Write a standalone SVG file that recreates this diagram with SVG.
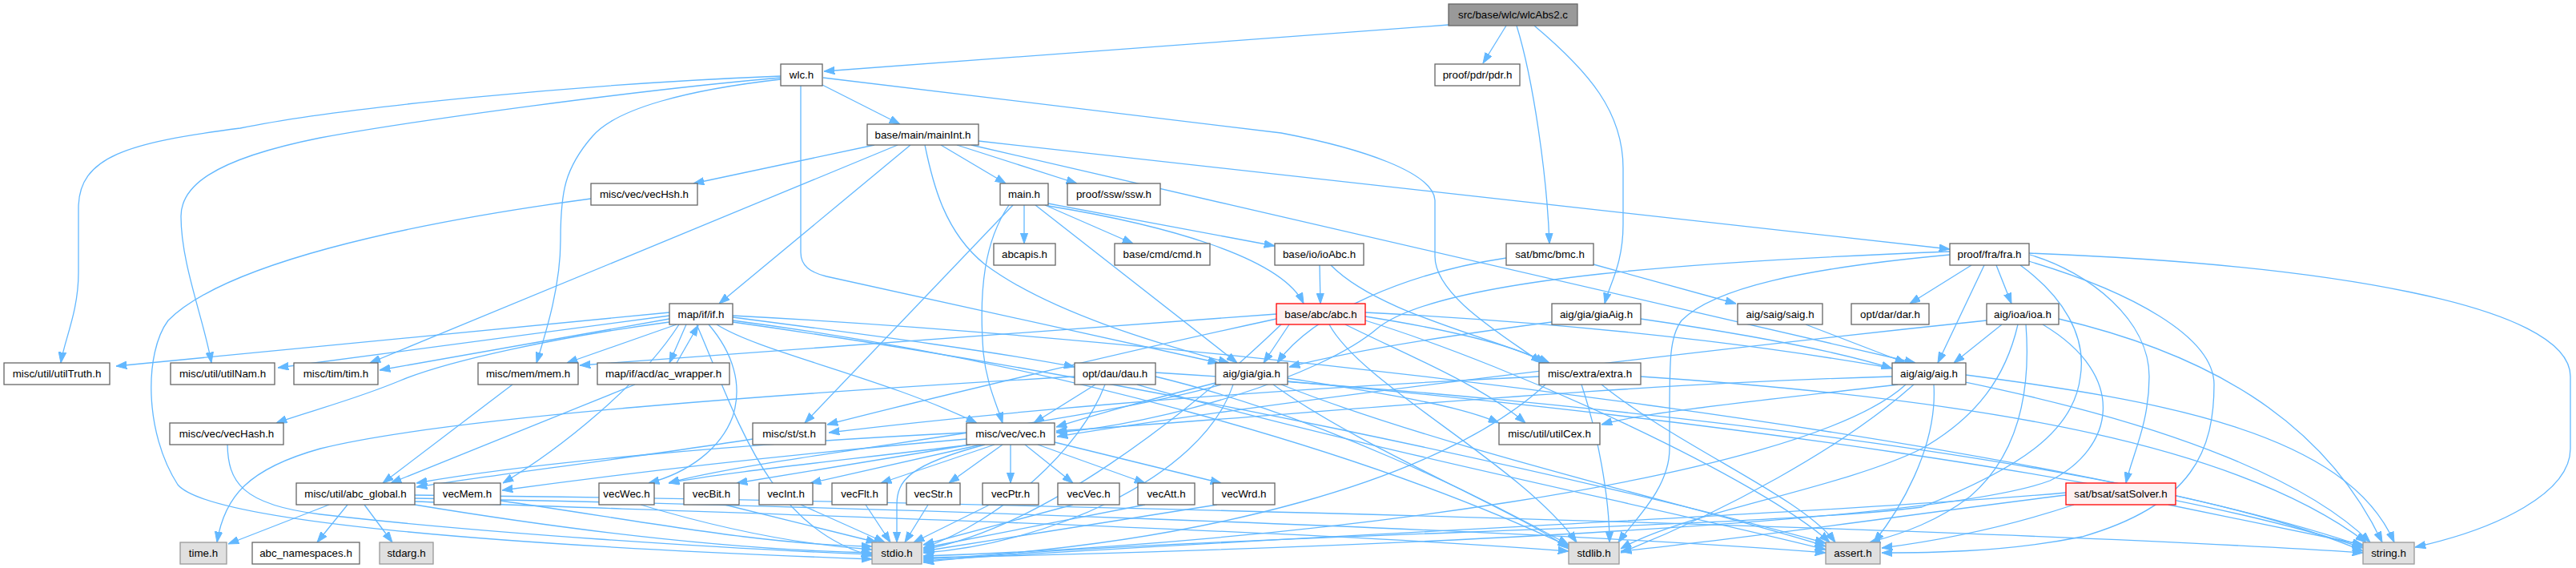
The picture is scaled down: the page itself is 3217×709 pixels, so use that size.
<svg xmlns="http://www.w3.org/2000/svg" width="3217" height="709" viewBox="0 0 3217 709">
<defs>
<marker id="ar" markerUnits="userSpaceOnUse" viewBox="0 0 13.3 10" refX="13.3" refY="5" markerWidth="13.3" markerHeight="10" orient="auto"><path d="M0,0.3 L13.3,5 L0,9.7 z" fill="#63b8ff" stroke="#63b8ff" stroke-width="1"/></marker>
</defs>
<style>
.e path{fill:none;stroke:#63b8ff;stroke-width:1.3;marker-end:url(#ar)}
rect{stroke-width:1.3}
.n rect{fill:#ffffff;stroke:#666666}
.s rect{fill:#e0e0e0;stroke:#999999}
.r rect{fill:#fff0f0;stroke:#ff0000}
.root rect{fill:#999999;stroke:#666666}
text{font-family:"Liberation Sans",Arial,Helvetica,sans-serif;font-size:13.33px;fill:#000000;text-anchor:middle}
</style>
<rect width="3217" height="709" fill="#ffffff"/>
<g id="edges" class="e">
<path d="M1809,31 L1029,89"/>
<path d="M1881,32 L1852,79"/>
<path d="M1894,32 C1915,100 1932,220 1935,304"/>
<path d="M1916,32 C1985,90 2027,140 2027,210 L2027,280 C2027,330 2010,355 2004,379"/>
<path d="M1027,106 L1124,155"/>
<path d="M975,95 C720,105 420,135 300,160 C160,178 98,195 98,260 L98,340 C98,390 80,425 76,453"/>
<path d="M975,97 C800,112 520,150 400,172 C260,200 226,235 226,270 C226,330 255,400 264,453"/>
<path d="M975,99 C860,112 770,135 740,170 C705,210 700,240 700,300 C700,360 680,420 670,453"/>
<path d="M1000,107 L1000,315 C1000,332 1012,340 1032,345 L1522,453"/>
<path d="M1028,97 L1600,166 C1700,185 1790,215 1792,250 L1792,320 C1792,370 1880,420 1925,453"/>
<path d="M1092,181 L866,229"/>
<path d="M1121,181 L462,453"/>
<path d="M1137,181 L898,379"/>
<path d="M1155,181 C1165,230 1180,290 1230,330 C1310,390 1450,430 1535,453"/>
<path d="M1175,181 L1256,229"/>
<path d="M1195,181 L1345,229"/>
<path d="M1213,181 L2392,453"/>
<path d="M1222,176 L2435,311"/>
<path d="M1279,256 L1279,304"/>
<path d="M1305,256 L1415,304"/>
<path d="M1309,254 L1592,307"/>
<path d="M1309,257 C1450,280 1600,320 1628,379"/>
<path d="M1293,256 L1545,453"/>
<path d="M1265,256 L1005,528"/>
<path d="M1260,256 C1230,300 1222,360 1228,440 C1232,480 1245,505 1252,528"/>
<path d="M1648,331 L1649,379"/>
<path d="M1662,331 C1720,390 1860,420 1935,453"/>
<path d="M1990,330 L2168,379"/>
<path d="M1881,322 C1760,340 1640,390 1595,453"/>
<path d="M2462,331 L2385,379"/>
<path d="M2478,331 L2420,453"/>
<path d="M2493,331 L2512,379"/>
<path d="M2535,318 C2610,340 2684,400 2684,470 C2684,530 2662,570 2655,603"/>
<path d="M2534,316 C2900,330 3210,380 3210,470 L3210,560 C3210,615 3120,660 3016,683"/>
<path d="M2530,325 C2660,363 2765,420 2765,480 C2765,560 2740,630 2600,670 C2500,690 2400,690 2350,690"/>
<path d="M2435,318 C2250,335 2140,360 2100,400 C2085,420 2085,450 2085,520 L2085,560 C2085,610 2040,650 2021,677"/>
<path d="M2523,331 C2577,370 2606,420 2598,470 C2590,540 2520,585 2400,633 C2200,660 1400,670 1153,702"/>
<path d="M2435,314 C2150,325 1800,345 1720,410 C1650,470 1450,530 1319,540"/>
<path d="M2500,405 L2440,453"/>
<path d="M2481,400 C2100,440 1600,500 1320,545"/>
<path d="M2520,405 C2505,470 2470,520 2400,560 C2300,610 2100,640 2024,685"/>
<path d="M2530,405 C2535,470 2530,560 2460,620 C2420,650 2380,665 2335,677"/>
<path d="M2571,398 C2750,440 2900,520 2975,677"/>
<path d="M2551,405 C2660,470 2640,560 2560,600 C2400,660 1500,690 1153,696"/>
<path d="M2363,470 C2000,480 1600,520 1319,538"/>
<path d="M2370,480 C2200,500 2050,515 2000,530"/>
<path d="M2390,480 C2300,560 2150,640 2024,690"/>
<path d="M2415,480 C2420,560 2370,640 2340,677"/>
<path d="M2455,468 C2700,500 2930,540 2990,677"/>
<path d="M2380,480 C2250,600 1600,680 1153,694"/>
<path d="M1518,478 C1430,500 1360,520 1319,533"/>
<path d="M1525,480 C1350,530 950,570 835,603"/>
<path d="M1608,472 C1720,490 1820,505 1872,528"/>
<path d="M1540,480 C1500,600 1300,680 1153,690"/>
<path d="M1590,480 C1700,560 1900,640 1959,685"/>
<path d="M1600,480 C1800,560 2150,640 2280,682"/>
<path d="M1608,476 C2100,520 2700,600 2951,684"/>
<path d="M1610,405 L1578,453"/>
<path d="M1594,398 C1400,440 1150,500 1033,530"/>
<path d="M1594,392 L724,456"/>
<path d="M1680,405 C1750,440 1850,480 1905,528"/>
<path d="M1705,395 C1800,410 1890,430 1930,453"/>
<path d="M1600,405 C1480,520 1300,660 1153,686"/>
<path d="M1660,405 C1700,480 1900,580 1969,677"/>
<path d="M1705,400 C1900,460 2200,600 2285,677"/>
<path d="M1705,390 C2300,420 2800,520 2960,677"/>
<path d="M1938,402 C1800,420 1680,440 1610,458"/>
<path d="M2049,398 C2200,420 2300,440 2363,460"/>
<path d="M2255,405 L2380,453"/>
<path d="M1368,480 L1291,528"/>
<path d="M1342,470 C1000,490 560,520 400,560 C310,585 280,620 271,677"/>
<path d="M1380,480 C1350,560 1250,650 1153,684"/>
<path d="M1443,470 C1650,520 1850,620 1959,680"/>
<path d="M1420,480 C1700,560 2100,640 2280,686"/>
<path d="M1443,465 C2000,500 2700,580 2951,688"/>
<path d="M1922,470 C1500,490 1200,520 1035,540"/>
<path d="M1930,480 C1800,600 1500,680 1153,698"/>
<path d="M1975,480 C1995,540 2010,620 2010,677"/>
<path d="M2000,480 C2100,560 2250,620 2292,677"/>
<path d="M2049,470 C2500,500 2800,560 2955,677"/>
<path d="M2580,615 C2300,640 1600,670 1153,700"/>
<path d="M2580,618 C2400,640 2200,670 2024,688"/>
<path d="M2590,630 C2500,660 2420,675 2350,684"/>
<path d="M2708,630 L2951,680"/>
<path d="M836,390 L145,457"/>
<path d="M836,394 L347,459"/>
<path d="M836,398 L474,462"/>
<path d="M845,405 L708,453"/>
<path d="M857,405 L836,453"/>
<path d="M836,402 C700,420 560,450 500,475 C440,500 380,515 345,528"/>
<path d="M895,405 C950,440 1100,470 1220,528"/>
<path d="M848,405 C800,480 700,560 628,603"/>
<path d="M885,405 C915,440 928,480 915,520 C900,560 860,590 810,603"/>
<path d="M915,396 C1100,420 1250,440 1342,458"/>
<path d="M870,405 C920,520 960,660 1089,694"/>
<path d="M915,400 C1300,450 1700,560 1959,682"/>
<path d="M915,402 C1400,470 2000,600 2280,678"/>
<path d="M915,394 C1600,430 2600,560 2951,682"/>
<path d="M845,453 L872,406"/>
<path d="M793,480 L488,603"/>
<path d="M640,480 L478,603"/>
<path d="M940,548 C800,570 600,595 520,608"/>
<path d="M1207,540 C900,555 650,580 520,603"/>
<path d="M1207,548 C950,570 750,595 627,612"/>
<path d="M1212,555 C1050,575 900,590 835,603"/>
<path d="M1212,555 L920,603"/>
<path d="M1225,555 L1012,603"/>
<path d="M1242,555 L1100,603"/>
<path d="M1252,555 L1185,603"/>
<path d="M1262,555 L1262,603"/>
<path d="M1280,555 L1340,603"/>
<path d="M1296,555 L1430,603"/>
<path d="M1317,552 L1525,603"/>
<path d="M1230,555 C1135,580 1120,600 1120,630 L1120,677"/>
<path d="M625,625 C800,650 950,680 1089,682"/>
<path d="M800,630 C900,660 1000,680 1089,686"/>
<path d="M905,630 L1095,677"/>
<path d="M1000,630 L1105,677"/>
<path d="M1081,630 L1112,677"/>
<path d="M1159,630 L1130,677"/>
<path d="M1236,630 L1141,677"/>
<path d="M1340,630 L1153,680"/>
<path d="M1430,630 L1153,684"/>
<path d="M1520,630 L1153,688"/>
<path d="M411,630 L285,679"/>
<path d="M434,630 L396,677"/>
<path d="M455,630 L490,677"/>
<path d="M518,630 C700,660 900,686 1089,690"/>
<path d="M518,626 C900,640 1600,660 1959,688"/>
<path d="M518,622 C1000,630 1900,660 2280,690"/>
<path d="M518,618 C1200,625 2500,660 2951,690"/>
<path d="M738,248 C500,280 280,330 210,400 C180,440 180,540 222,605 C260,650 600,680 1089,698"/>
<path d="M284,555 C285,600 300,630 400,642 C600,665 900,685 1089,692"/>
</g>
<g id="n_root" class="root"><rect x="1809" y="5" width="161" height="27"/><text x="1889.5" y="23.2">src/base/wlc/wlcAbs2.c</text></g>
<g id="n_wlc" class="n"><rect x="975" y="80" width="52" height="27"/><text x="1001" y="98.2">wlc.h</text></g>
<g id="n_pdr" class="n"><rect x="1792" y="80" width="106" height="27"/><text x="1845" y="98.2">proof/pdr/pdr.h</text></g>
<g id="n_mainInt" class="n"><rect x="1083" y="155" width="139" height="26"/><text x="1152.5" y="172.7">base/main/mainInt.h</text></g>
<g id="n_vecHsh" class="n"><rect x="738" y="229" width="133" height="27"/><text x="804.5" y="247.2">misc/vec/vecHsh.h</text></g>
<g id="n_main" class="n"><rect x="1249" y="229" width="60" height="27"/><text x="1279" y="247.2">main.h</text></g>
<g id="n_ssw" class="n"><rect x="1333" y="229" width="116" height="27"/><text x="1391" y="247.2">proof/ssw/ssw.h</text></g>
<g id="n_abcapis" class="n"><rect x="1241" y="304" width="77" height="27"/><text x="1279.5" y="322.2">abcapis.h</text></g>
<g id="n_cmd" class="n"><rect x="1392" y="304" width="119" height="27"/><text x="1451.5" y="322.2">base/cmd/cmd.h</text></g>
<g id="n_ioAbc" class="n"><rect x="1592" y="304" width="111" height="27"/><text x="1647.5" y="322.2">base/io/ioAbc.h</text></g>
<g id="n_bmc" class="n"><rect x="1881" y="304" width="109" height="27"/><text x="1935.5" y="322.2">sat/bmc/bmc.h</text></g>
<g id="n_fra" class="n"><rect x="2435" y="304" width="99" height="27"/><text x="2484.5" y="322.2">proof/fra/fra.h</text></g>
<g id="n_if" class="n"><rect x="836" y="379" width="79" height="26"/><text x="875.5" y="396.7">map/if/if.h</text></g>
<g id="n_abc" class="r"><rect x="1594" y="379" width="111" height="26"/><text x="1649.5" y="396.7">base/abc/abc.h</text></g>
<g id="n_giaAig" class="n"><rect x="1938" y="379" width="111" height="26"/><text x="1993.5" y="396.7">aig/gia/giaAig.h</text></g>
<g id="n_saig" class="n"><rect x="2170" y="379" width="106" height="26"/><text x="2223" y="396.7">aig/saig/saig.h</text></g>
<g id="n_dar" class="n"><rect x="2312" y="379" width="97" height="26"/><text x="2360.5" y="396.7">opt/dar/dar.h</text></g>
<g id="n_ioa" class="n"><rect x="2481" y="379" width="90" height="26"/><text x="2526" y="396.7">aig/ioa/ioa.h</text></g>
<g id="n_utilTruth" class="n"><rect x="5" y="453" width="132" height="27"/><text x="71" y="471.2">misc/util/utilTruth.h</text></g>
<g id="n_utilNam" class="n"><rect x="213" y="453" width="130" height="27"/><text x="278" y="471.2">misc/util/utilNam.h</text></g>
<g id="n_tim" class="n"><rect x="367" y="453" width="105" height="27"/><text x="419.5" y="471.2">misc/tim/tim.h</text></g>
<g id="n_mem" class="n"><rect x="597" y="453" width="125" height="27"/><text x="659.5" y="471.2">misc/mem/mem.h</text></g>
<g id="n_acw" class="n"><rect x="746" y="453" width="165" height="27"/><text x="828.5" y="471.2">map/if/acd/ac_wrapper.h</text></g>
<g id="n_dau" class="n"><rect x="1342" y="453" width="101" height="27"/><text x="1392.5" y="471.2">opt/dau/dau.h</text></g>
<g id="n_gia" class="n"><rect x="1518" y="453" width="90" height="27"/><text x="1563" y="471.2">aig/gia/gia.h</text></g>
<g id="n_extra" class="n"><rect x="1922" y="453" width="127" height="27"/><text x="1985.5" y="471.2">misc/extra/extra.h</text></g>
<g id="n_aig" class="n"><rect x="2363" y="453" width="92" height="27"/><text x="2409" y="471.2">aig/aig/aig.h</text></g>
<g id="n_vecHash" class="n"><rect x="212" y="528" width="142" height="27"/><text x="283" y="546.2">misc/vec/vecHash.h</text></g>
<g id="n_st" class="n"><rect x="940" y="528" width="91" height="27"/><text x="985.5" y="546.2">misc/st/st.h</text></g>
<g id="n_vec" class="n"><rect x="1207" y="528" width="110" height="27"/><text x="1262" y="546.2">misc/vec/vec.h</text></g>
<g id="n_utilCex" class="n"><rect x="1872" y="528" width="126" height="27"/><text x="1935" y="546.2">misc/util/utilCex.h</text></g>
<g id="n_abc_global" class="n"><rect x="370" y="603" width="148" height="27"/><text x="444" y="621.2">misc/util/abc_global.h</text></g>
<g id="n_vecMem" class="n"><rect x="542" y="603" width="83" height="27"/><text x="583.5" y="621.2">vecMem.h</text></g>
<g id="n_vecWec" class="n"><rect x="748" y="603" width="69" height="27"/><text x="782.5" y="621.2">vecWec.h</text></g>
<g id="n_vecBit" class="n"><rect x="854" y="603" width="69" height="27"/><text x="888.5" y="621.2">vecBit.h</text></g>
<g id="n_vecInt" class="n"><rect x="948" y="603" width="67" height="27"/><text x="981.5" y="621.2">vecInt.h</text></g>
<g id="n_vecFlt" class="n"><rect x="1039" y="603" width="69" height="27"/><text x="1073.5" y="621.2">vecFlt.h</text></g>
<g id="n_vecStr" class="n"><rect x="1132" y="603" width="67" height="27"/><text x="1165.5" y="621.2">vecStr.h</text></g>
<g id="n_vecPtr" class="n"><rect x="1227" y="603" width="70" height="27"/><text x="1262" y="621.2">vecPtr.h</text></g>
<g id="n_vecVec" class="n"><rect x="1321" y="603" width="77" height="27"/><text x="1359.5" y="621.2">vecVec.h</text></g>
<g id="n_vecAtt" class="n"><rect x="1421" y="603" width="71" height="27"/><text x="1456.5" y="621.2">vecAtt.h</text></g>
<g id="n_vecWrd" class="n"><rect x="1515" y="603" width="77" height="27"/><text x="1553.5" y="621.2">vecWrd.h</text></g>
<g id="n_satSolver" class="r"><rect x="2580" y="603" width="137" height="27"/><text x="2648.5" y="621.2">sat/bsat/satSolver.h</text></g>
<g id="n_time" class="s"><rect x="225" y="677" width="58" height="27"/><text x="254" y="695.2">time.h</text></g>
<g id="n_abc_ns" class="n"><rect x="315" y="677" width="134" height="27"/><text x="382" y="695.2">abc_namespaces.h</text></g>
<g id="n_stdarg" class="s"><rect x="474" y="677" width="67" height="27"/><text x="507.5" y="695.2">stdarg.h</text></g>
<g id="n_stdio" class="s"><rect x="1089" y="677" width="62" height="27"/><text x="1120" y="695.2">stdio.h</text></g>
<g id="n_stdlib" class="s"><rect x="1959" y="677" width="63" height="27"/><text x="1990.5" y="695.2">stdlib.h</text></g>
<g id="n_assert" class="s"><rect x="2280" y="677" width="68" height="27"/><text x="2314" y="695.2">assert.h</text></g>
<g id="n_string" class="s"><rect x="2951" y="677" width="64" height="27"/><text x="2983" y="695.2">string.h</text></g>
</svg>
